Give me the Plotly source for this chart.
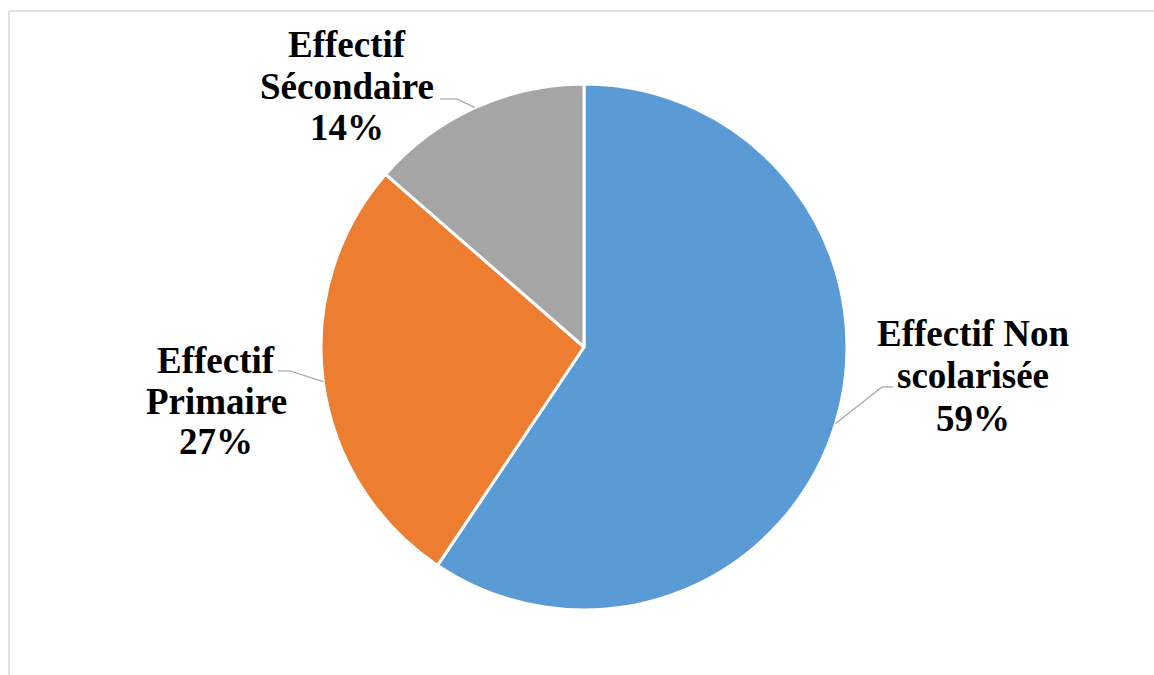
import math
import plotly.graph_objects as go

categories = ["Effectif Non scolarisée", "Effectif Primaire", "Effectif Sécondaire"]
values = [59.4, 27.0, 13.6]
colors = ["#5B9BD5", "#ED7D31", "#A5A5A5"]
label_lines = [["Effectif Non", "scolarisée"], ["Effectif", "Primaire"], ["Effectif", "Sécondaire"]]

W, H = 1154, 675
cx, cy, R = 584, 347, 263

def px(x):
    return x / W

def py(y):
    return 1 - y / H

fig = go.Figure(go.Pie(
    labels=categories, values=values, sort=False, direction="clockwise", rotation=0,
    marker=dict(colors=colors, line=dict(color="white", width=3)),
    textinfo="none", hoverinfo="label+percent", showlegend=False,
    domain=dict(x=[px(cx - R), px(cx + R)], y=[py(cy + R), py(cy - R)]),
))

label_pos = [
    dict(x=973, baselines=[345, 387, 430], elbow=(882, 893), ly=387),
    dict(x=216, baselines=[372, 413, 453], elbow=(290, 278), ly=371),
    dict(x=347, baselines=[56, 98, 140], elbow=(457, 440), ly=99),
]
FS = 37
FONT = "Liberation Serif, Times New Roman, Times, serif"
total = sum(values)
annotations = []
shapes = []
cum = 0
for i, v in enumerate(values):
    mid = (cum + v / 2) / total * 2 * math.pi
    cum += v
    ex = cx + R * math.sin(mid)
    ey = cy - R * math.cos(mid)
    pct = f"{round(v / total * 100)}%"
    lines = label_lines[i] + [pct]
    lp = label_pos[i]
    for t, b in zip(lines, lp["baselines"]):
        annotations.append(dict(
            x=px(lp["x"]), y=py(b - 12), xref="paper", yref="paper",
            text=f"<b>{t}</b>", showarrow=False, xanchor="center", yanchor="middle",
            font=dict(family=FONT, size=FS, color="black"),
        ))
    e1, e2 = lp["elbow"]
    ly = lp["ly"]
    shapes.append(dict(type="line", xref="paper", yref="paper",
                       x0=px(e2), y0=py(ly), x1=px(e1), y1=py(ly),
                       line=dict(color="#A6A6A6", width=1.2)))
    shapes.append(dict(type="line", xref="paper", yref="paper",
                       x0=px(e1), y0=py(ly), x1=px(ex), y1=py(ey),
                       line=dict(color="#A6A6A6", width=1.2)))

shapes.append(dict(type="line", xref="paper", yref="paper", x0=px(9), y0=py(11), x1=1.01, y1=py(11),
                   line=dict(color="#D9D9D9", width=1.5)))
shapes.append(dict(type="line", xref="paper", yref="paper", x0=px(9), y0=py(11), x1=px(9), y1=-0.01,
                   line=dict(color="#D9D9D9", width=1.5)))

fig.update_layout(
    width=W, height=H, margin=dict(l=0, r=0, t=0, b=0),
    paper_bgcolor="white", plot_bgcolor="white",
    annotations=annotations, shapes=shapes,
)
fig.write_html("out.html", config={"displayModeBar": False},
               post_script="document.body.style.margin='0';")
